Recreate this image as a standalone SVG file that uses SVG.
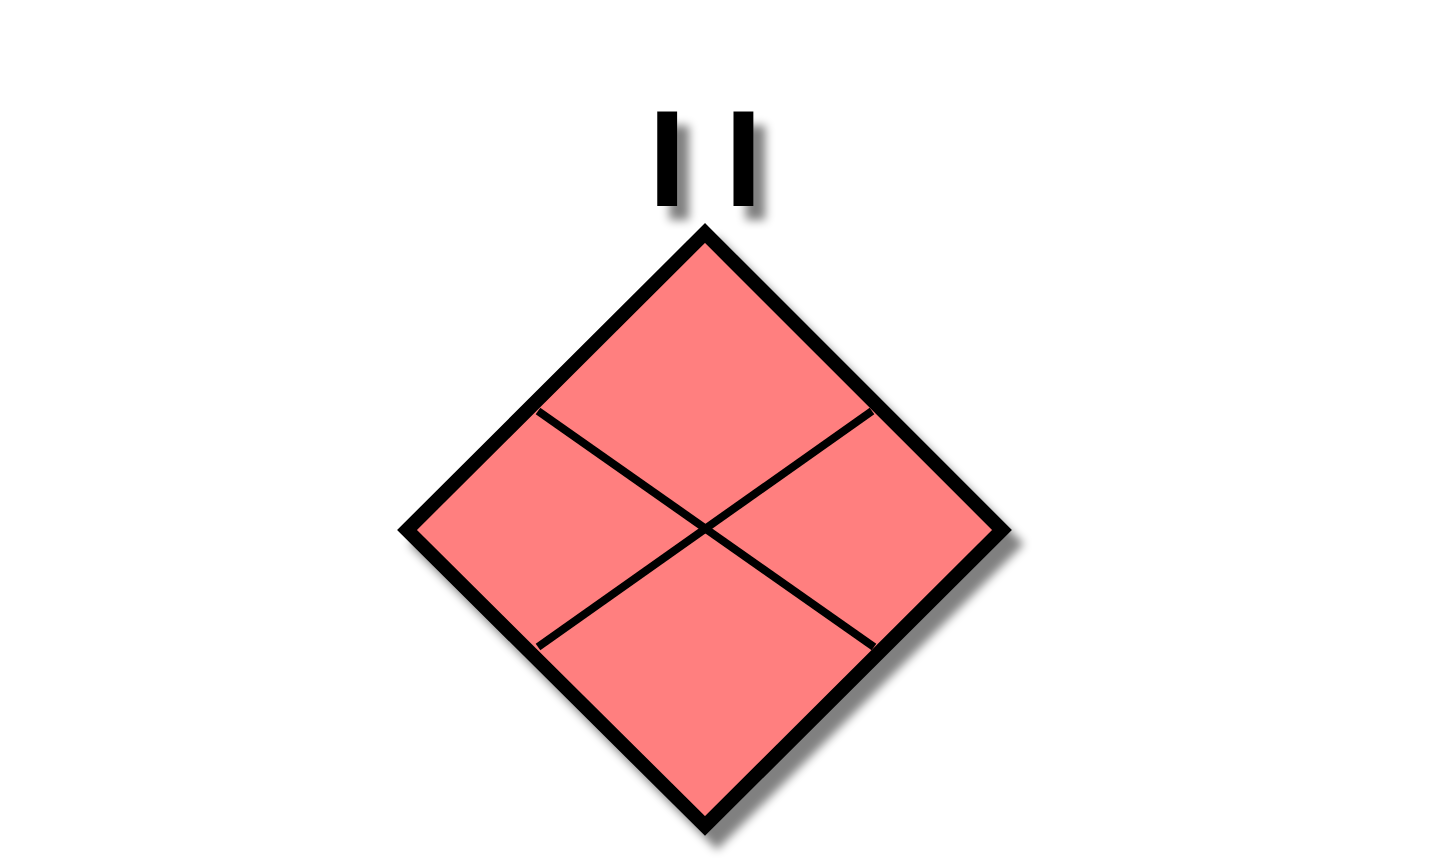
<svg xmlns="http://www.w3.org/2000/svg" width="1440" height="864" viewBox="0 0 1440 864">
<defs>
<filter id="sh" x="-20%" y="-20%" width="150%" height="150%">
<feGaussianBlur in="SourceAlpha" stdDeviation="5"/>
<feOffset dx="12" dy="14" result="b"/>
<feComponentTransfer><feFuncA type="linear" slope="0.5"/></feComponentTransfer>
<feMerge><feMergeNode/><feMergeNode in="SourceGraphic"/></feMerge>
</filter>
<style>
.lbl{font-family:"Liberation Sans",Arial,sans-serif;font-weight:bold;font-size:138px;fill:#000}
.d{fill:#FF7F7F;stroke:#000;stroke-width:14;stroke-linejoin:miter}
.x{stroke:#000;stroke-width:8;fill:none}
</style>
</defs>
<rect width="1440" height="864" fill="#fff"/>
<g id="gateway" filter="url(#sh)">
<polygon class="d" points="705,233 1002,530 705,826 407,530"/>
<line class="x" x1="538" y1="411" x2="874" y2="647"/>
<line class="x" x1="872" y1="411" x2="538" y2="647"/>
</g>
<g id="label" filter="url(#sh)">
<text class="lbl" x="648" y="206" letter-spacing="38">II</text>
</g>
<g id="connectors"/>
</svg>
